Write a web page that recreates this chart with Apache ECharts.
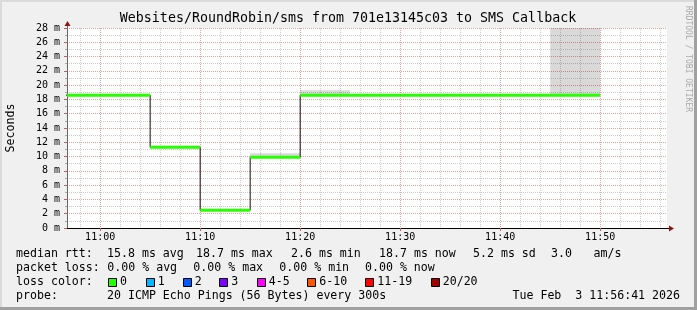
<!DOCTYPE html>
<html><head><meta charset="utf-8">
<script src="https://cdn.jsdelivr.net/npm/echarts@6/dist/echarts.min.js"></script>
<style>html,body{margin:0;padding:0;background:#f0f0f0}#c{width:697px;height:310px}</style>
</head><body><div id="c"></div>
<script>
// ---- data (x in minutes since 10:00) ----
const viewStart = 56 + 41 / 60;   // 10:56:41
const viewEnd = 116 + 41 / 60;    // 11:56:41
const stepMinutes = 5;
const intervalStarts = [55, 60, 65, 70, 75, 80, 85, 90, 95, 100, 105];
const medianMs = [18.6, 18.6, 11.3, 2.5, 9.9, 18.6, 18.6, 18.6, 18.6, 18.6, 18.6];
const smokeTopMs = [null, null, null, null, 10.45, 19.3, null, null, null, null, 28];
const xMajorTicks = [60, 70, 80, 90, 100, 110];
const xTickLabels = ['11:00', '11:10', '11:20', '11:30', '11:40', '11:50'];
const yMin = 0, yMax = 28, yStep = 2;
const titleText = 'Websites/RoundRobin/sms from 701e13145c03 to SMS Callback';
const yName = 'Seconds';
const sideText = 'RRDTOOL / TOBI OETIKER';
const rttLabel = 'median rtt:';
const rttStats = ['15.8 ms avg', '18.7 ms max', '2.6 ms min', '18.7 ms now', '5.2 ms sd', '3.0', 'am/s'];
const lossLabel = 'packet loss:';
const lossStats = ['0.00 % avg', '0.00 % max', '0.00 % min', '0.00 % now'];
const lossColorLabel = 'loss color:';
const lossNames = ['0', '1', '2', '3', '4-5', '6-10', '11-19', '20/20'];
const lossColors = ['#26ff00', '#00b8ff', '#0059ff', '#7e00ff', '#ff00ff', '#ff5500', '#ff0000', '#a10000'];
const probeLabel = 'probe:';
const probeText = '20 ICMP Echo Pings (56 Bytes) every 300s';
const dateText = 'Tue Feb  3 11:56:41 2026';

// ---- derived ----
const xMinorTicks = [];
for (let m = 58; m < viewEnd; m += 2) if (m % 10 !== 0) xMinorTicks.push(m);
const stepData = intervalStarts.map((s, i) => [s, medianMs[i]]);
stepData.push([intervalStarts[intervalStarts.length - 1] + stepMinutes, medianMs[medianMs.length - 1]]);
const segData = intervalStarts.map((s, i) => [s, medianMs[i]]);
const smokeData = [];
intervalStarts.forEach((s, i) => { if (smokeTopMs[i] != null) smokeData.push([s, medianMs[i], smokeTopMs[i]]); });

const MONO = '"DejaVu Sans Mono", monospace';
const MAJOR = '#eaa0a0';
const MINOR = '#cdcdcd';

const chart = echarts.init(document.getElementById('c'), null, { renderer: 'canvas', width: 697, height: 310 });

const option = {
  animation: false,
  backgroundColor: '#f0f0f0',
  grid: { left: 67, top: 28, width: 600, height: 200, show: true, backgroundColor: '#ffffff', borderWidth: 0,
          containLabel: false, outerBoundsMode: 'none' },
  xAxis: [
    {
      type: 'value', min: viewStart, max: viewEnd,
      axisLine: { show: true, onZero: false, lineStyle: { color: '#000', width: 1 } },
      axisTick: { show: true, length: 3, customValues: xMajorTicks, lineStyle: { color: '#c06060' } },
      axisLabel: {
        customValues: xMajorTicks,
        formatter: v => xTickLabels[xMajorTicks.indexOf(v)],
        fontFamily: MONO, fontSize: 10, color: '#000', margin: 4
      },
      splitLine: { show: true, lineStyle: { color: MAJOR, type: [1, 1], width: 1 } },
      minorTick: { show: false }, minorSplitLine: { show: false }
    },
    {
      type: 'value', min: viewStart, max: viewEnd, position: 'bottom',
      axisLine: { show: false },
      axisTick: { show: false, customValues: xMinorTicks },
      axisLabel: { show: false },
      splitLine: { show: true, lineStyle: { color: MINOR, type: [1, 1], width: 1 } }
    }
  ],
  yAxis: {
    type: 'value', min: yMin, max: yMax, interval: yStep,
    axisLine: { show: true, lineStyle: { color: '#666', width: 1 } },
    axisTick: { show: true, length: 3, lineStyle: { color: '#c06060' } },
    minorTick: { show: true, splitNumber: 2, length: 2, lineStyle: { color: '#aaa' } },
    axisLabel: { formatter: v => v + ' m', fontFamily: MONO, fontSize: 10, color: '#000', margin: 7 },
    splitLine: { show: true, lineStyle: { color: MAJOR, type: [1, 1], width: 1 } },
    minorSplitLine: { show: true, lineStyle: { color: MINOR, type: [1, 1], width: 1 } },
    name: yName, nameLocation: 'middle', nameGap: 50,
    nameTextStyle: { fontFamily: MONO, fontSize: 11.6, color: '#000' }
  },
  series: [
    {
      type: 'custom', name: 'smoke', z: 2, silent: true,
      encode: { x: 0, y: 1 },
      data: smokeData,
      renderItem: (params, api) => {
        const s = api.value(0), med = api.value(1), top = Math.min(api.value(2), yMax);
        const x0 = Math.max(s, viewStart), x1 = Math.min(s + stepMinutes, viewEnd);
        const p0 = api.coord([x0, top]);
        const p1 = api.coord([x1, med]);
        return { type: 'rect', shape: { x: p0[0], y: p0[1], width: p1[0] - p0[0], height: p1[1] - p0[1] },
                 style: { fill: 'rgba(0,0,0,0.15)' } };
      }
    },
    {
      type: 'line', name: 'median-step', z: 3, silent: true,
      data: stepData, step: 'end', showSymbol: false,
      lineStyle: { color: '#1a0a0a', width: 1 }
    },
    {
      type: 'custom', name: 'median', z: 4, silent: true,
      encode: { x: 0, y: 1 },
      data: segData,
      renderItem: (params, api) => {
        const s = api.value(0), v = api.value(1);
        const x0 = Math.max(s, viewStart), x1 = Math.min(s + stepMinutes, viewEnd);
        if (x1 <= x0) return null;
        const p0 = api.coord([x0, v]), p1 = api.coord([x1, v]);
        return { type: 'line', shape: { x1: p0[0], y1: p0[1], x2: p1[0], y2: p1[1] },
                 style: { stroke: lossColors[0], lineWidth: 3, lineCap: 'butt' } };
      }
    }
  ]
};
chart.setOption(option);

// ---- decorations (computed from the axes) ----
const origin = chart.convertToPixel({ gridIndex: 0 }, [viewStart, yMin]);
const corner = chart.convertToPixel({ gridIndex: 0 }, [viewEnd, yMax]);
const ox = Math.round(origin[0]) + 0.5, oy = Math.round(origin[1]) + 0.5;
const rx = corner[0], ty = corner[1];
const ARROW = '#8b1515';

const textEl = (text, x, y, font, opts) => Object.assign({
  type: 'text', x, y, silent: true,
  style: Object.assign({ text, font, fill: '#000', align: 'left', verticalAlign: 'middle' }, (opts && opts.style) || {})
}, opts && opts.rotation != null ? { rotation: opts.rotation } : {});

const LF = '11.6px ' + MONO;
const graphics = [
  // frame
  { type: 'rect', shape: { x: 0, y: 0, width: 697, height: 2 }, style: { fill: '#dadada' }, silent: true },
  { type: 'rect', shape: { x: 0, y: 0, width: 2, height: 310 }, style: { fill: '#dadada' }, silent: true },
  { type: 'rect', shape: { x: 0, y: 307, width: 697, height: 3 }, style: { fill: '#a0a0a0' }, silent: true },
  { type: 'rect', shape: { x: 694, y: 0, width: 3, height: 310 }, style: { fill: '#a0a0a0' }, silent: true },
  // axis extensions & arrows
  { type: 'line', shape: { x1: rx, y1: oy, x2: rx + 4, y2: oy }, style: { stroke: '#000', lineWidth: 1 }, silent: true },
  { type: 'polygon', shape: { points: [[rx + 2, oy - 3], [rx + 7, oy], [rx + 2, oy + 3]] }, style: { fill: ARROW }, silent: true },
  { type: 'line', shape: { x1: ox, y1: ty, x2: ox, y2: ty - 4 }, style: { stroke: '#666', lineWidth: 1 }, silent: true },
  { type: 'polygon', shape: { points: [[ox - 3, ty - 2], [ox, ty - 7], [ox + 3, ty - 2]] }, style: { fill: ARROW }, silent: true },
  // title & side text
  textEl(titleText, 348, 19, '13.3px ' + MONO, { style: { align: 'center' } }),
  textEl(sideText, 688, 59, '8px ' + MONO, { rotation: -Math.PI / 2, style: { align: 'center', fill: '#a9a9a9' } }),
  // legend rows
  textEl(rttLabel, 16, 254, LF),
  textEl(lossLabel, 16, 268, LF),
  textEl(lossColorLabel, 16, 282, LF),
  textEl(probeLabel, 16, 296, LF),
  textEl(probeText, 107, 296, LF),
  textEl(dateText, 680, 296, LF, { style: { align: 'right' } })
];
const rttX = [107, 196, 291, 379, 473, 551, 593.5];
rttStats.forEach((t, i) => graphics.push(textEl(t, rttX[i], 254, LF)));
const lossX = [107.3, 193.3, 279.3, 365];
lossStats.forEach((t, i) => graphics.push(textEl(t, lossX[i], 268, LF)));
const boxX = [108, 145.7, 182.7, 219.3, 256.7, 307.3, 365.3, 430.7];
lossNames.forEach((t, i) => {
  const bx = Math.round(boxX[i]) + 0.5;
  graphics.push({ type: 'rect', silent: true, shape: { x: bx, y: 278.5, width: 8, height: 8 },
                  style: { fill: lossColors[i], stroke: '#000', lineWidth: 1 } });
  graphics.push(textEl(t, boxX[i] + 12, 282, LF));
});
chart.setOption({ graphic: graphics });
</script>
</body></html>
